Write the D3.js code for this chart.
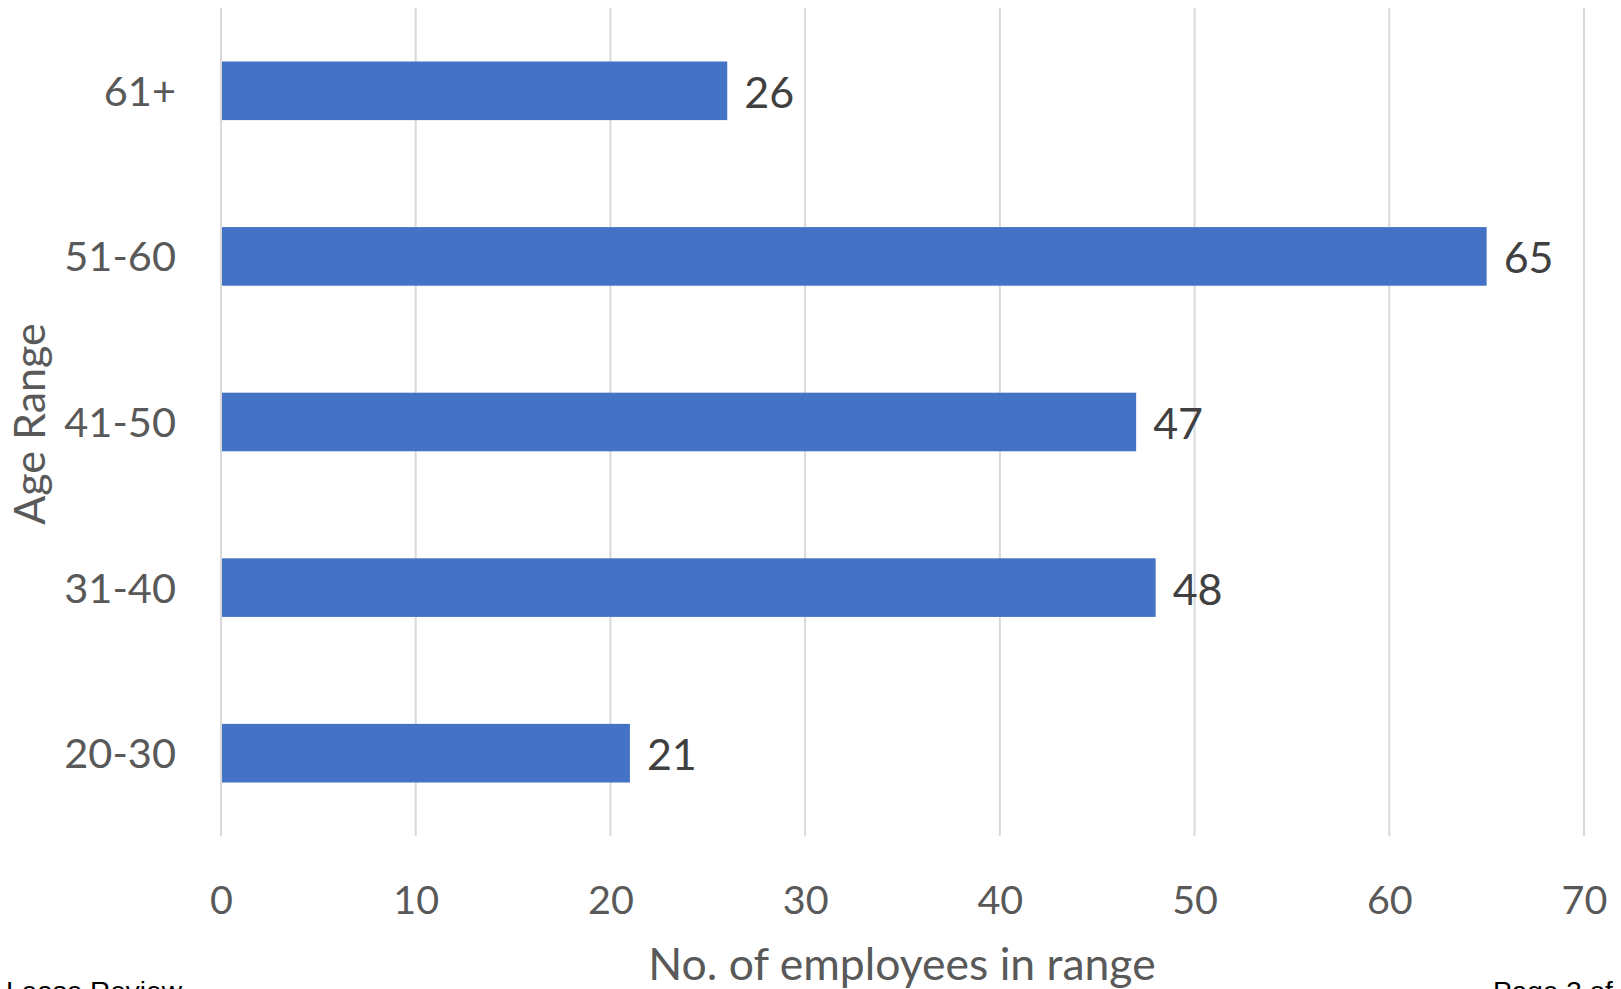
<!DOCTYPE html>
<html>
<head>
<meta charset="utf-8">
<script src="https://cdn.jsdelivr.net/npm/d3@7"></script>
<style>
  html, body { margin: 0; padding: 0; background: #ffffff; overflow: hidden; }
  svg { display: block; font-family: Lato, "Open Sans", sans-serif; }
</style>
</head>
<body>
<svg id="chart" width="1621" height="989"></svg>
<script>
const categories = ["61+", "51-60", "41-50", "31-40", "20-30"];
const values = [26, 65, 47, 48, 21];
const xTicks = [0, 10, 20, 30, 40, 50, 60, 70];
const xTitle = "No. of employees in range";
const yTitle = "Age Range";
const footerLeft = "Lease Review";
const footerRight = "Page 3 of 5";

const svg = d3.select("#chart");
const plot = { left: 221, right: 1584, top: 8, bottom: 836 };

const x = d3.scaleLinear().domain([0, 70]).range([plot.left, plot.right]);
const y = d3.scaleBand().domain(categories).range([plot.top, plot.bottom])
  .paddingInner(0.646).paddingOuter(0.323);

// gridlines
svg.append("g").selectAll("line").data(xTicks).join("line")
  .attr("x1", d => x(d)).attr("x2", d => x(d))
  .attr("y1", plot.top).attr("y2", plot.bottom)
  .attr("stroke", "#d9d9d9").attr("stroke-width", 2);

// bars
svg.append("g").selectAll("rect").data(categories).join("rect")
  .attr("x", x(0) + 1)
  .attr("y", d => y(d))
  .attr("width", (d, i) => x(values[i]) - x(0) - 1)
  .attr("height", y.bandwidth())
  .attr("fill", "#4472c4");

// data labels
svg.append("g").selectAll("text").data(categories).join("text")
  .attr("x", (d, i) => x(values[i]) + 17)
  .attr("y", d => y(d) + y.bandwidth() / 2 + 17)
  .attr("fill", "#404040")
  .attr("font-size", 43)
  .text((d, i) => values[i]);

// x axis tick labels
const xAxis = d3.axisBottom(x).tickValues(xTicks).tickSize(0).tickPadding(0);
const gx = svg.append("g").attr("transform", `translate(0,${plot.bottom})`).call(xAxis);
gx.select(".domain").remove();
gx.selectAll("text")
  .attr("dy", null).attr("y", 78)
  .attr("fill", "#595959").attr("font-size", 39.5)
  .attr("font-family", "Lato, sans-serif");

// y axis category labels
const yAxis = d3.axisLeft(y).tickSize(0).tickPadding(0);
const gy = svg.append("g").attr("transform", `translate(176,0)`).call(yAxis);
gy.select(".domain").remove();
gy.selectAll("text")
  .attr("dy", null).attr("y", 15)
  .attr("fill", "#595959").attr("font-size", 41.5)
  .attr("font-family", "Lato, sans-serif");

// axis titles
svg.append("text")
  .attr("x", 902).attr("y", 980)
  .attr("text-anchor", "middle")
  .attr("fill", "#595959").attr("font-size", 44.5)
  .text(xTitle);

svg.append("text")
  .attr("transform", "translate(45,424) rotate(-90)")
  .attr("text-anchor", "middle")
  .attr("fill", "#595959").attr("font-size", 43)
  .text(yTitle);

// clipped page footer text (only the tops show at the bottom edge)
svg.append("text")
  .attr("x", 6).attr("y", 1001)
  .attr("fill", "#000000").attr("font-size", 28)
  .attr("font-family", "'Liberation Sans', Arial, sans-serif")
  .text(footerLeft);
svg.append("text")
  .attr("x", 1493).attr("y", 1001)
  .attr("fill", "#000000").attr("font-size", 28)
  .attr("font-family", "'Liberation Sans', Arial, sans-serif")
  .text(footerRight);
</script>
</body>
</html>
